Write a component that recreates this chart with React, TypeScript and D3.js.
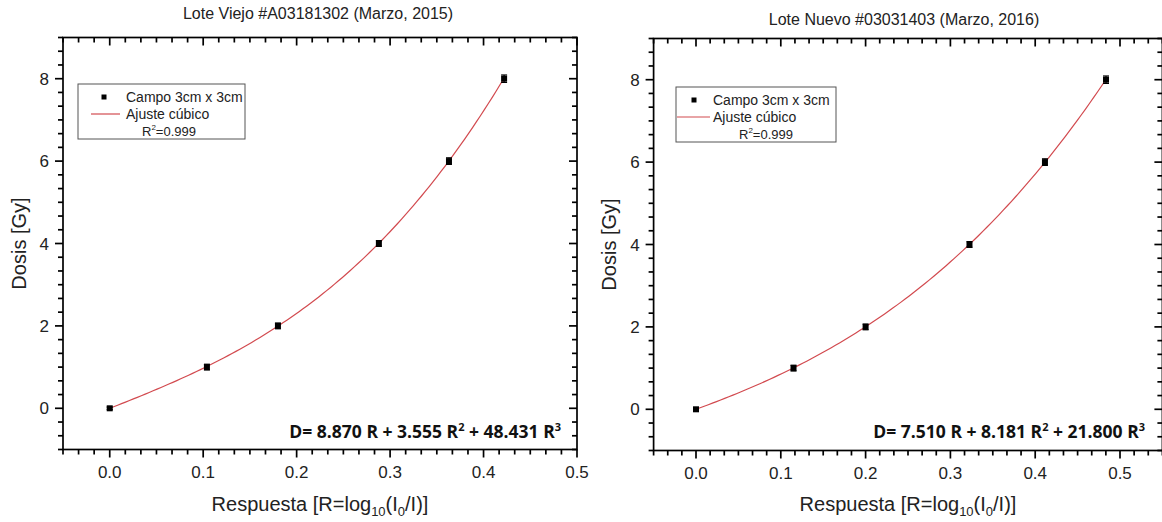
import React from "react";
import * as d3 from "d3";

const doses = [0, 1, 2, 4, 6, 8];
const doseErr = [0.03, 0.07, 0.07, 0.07, 0.08, 0.09];
const respOld = [0, 0.104, 0.18, 0.288, 0.363, 0.422];
const respNew = [0, 0.115, 0.2, 0.3225, 0.4115, 0.4835];
const coefOld = [8.87, 3.555, 48.431];
const coefNew = [7.51, 8.181, 21.8];
const coefOldText = ["8.870", "3.555", "48.431"];
const coefNewText = ["7.510", "8.181", "21.800"];
const xTicks = [0, 0.1, 0.2, 0.3, 0.4, 0.5];
const yTicks = [0, 2, 4, 6, 8];
const titles = ["Lote Viejo #A03181302 (Marzo, 2015)", "Lote Nuevo #03031403 (Marzo, 2016)"];
const legendLabels = ["Campo 3cm x 3cm", "Ajuste cúbico", "=0.999"];

const FONT = "'Liberation Sans', Arial, sans-serif";
const RED = "#d24a4f";

type PanelProps = {
  title: string;
  titleX: number;
  titleY: number;
  resp: number[];
  coef: number[];
  coefText: string[];
  xDomain: [number, number];
  xRange: [number, number];
  yRange: [number, number];
  yLabelX: number;
  legend: { x: number; y: number; w: number; h: number; lineX0: number; lineX1: number; markX: number; textX: number; r2X: number };
  eqRight: number;
};

function Panel(p: PanelProps) {
  const x = d3.scaleLinear().domain(p.xDomain).range(p.xRange);
  const y = d3.scaleLinear().domain([-1, 9]).range(p.yRange);
  const [x0, x1] = p.xRange;
  const [yb, yt] = p.yRange;
  const minorX = d3.range(Math.round(p.xDomain[0] * 60), Math.round(p.xDomain[1] * 60) + 1).map((i) => i / 60);
  const minorY = d3.range(-3, 28).map((i) => i / 3);
  const fit = (r: number) => p.coef[0] * r + p.coef[1] * r * r + p.coef[2] * r * r * r;
  const rMax = d3.max(p.resp) as number;
  const curvePts = d3.range(0, 101).map((i) => (rMax * i) / 100);
  const line = d3
    .line<number>()
    .x((r) => x(r))
    .y((r) => y(fit(r)));
  const isMajorX = (v: number) => xTicks.some((t) => Math.abs(t - v) < 1e-6);
  const isMajorY = (v: number) => yTicks.some((t) => Math.abs(t - v) < 1e-6);
  const cx = (x0 + x1) / 2;
  const cy = (yb + yt) / 2;
  const L = p.legend;
  return (
    <g>
      <text x={p.titleX} y={p.titleY} textAnchor="middle" fontSize={16} fontFamily={FONT} fill="#222">
        {p.title}
      </text>
      <rect x={x0} y={yt} width={x1 - x0} height={yb - yt} fill="none" stroke="#000" strokeWidth={1.7} />
      {minorX.map((v, i) => {
        const len = isMajorX(v) ? 8 : 5;
        const xx = x(v);
        return (
          <g key={"xt" + i}>
            <line x1={xx} x2={xx} y1={yb} y2={yb + len} stroke="#000" strokeWidth={1.7} />
            <line x1={xx} x2={xx} y1={yt} y2={yt + len} stroke="#000" strokeWidth={1.7} />
          </g>
        );
      })}
      {minorY.map((v, i) => {
        const len = isMajorY(v) ? 8 : 5;
        const yy = y(v);
        return (
          <g key={"yt" + i}>
            <line x1={x0} x2={x0 - len} y1={yy} y2={yy} stroke="#000" strokeWidth={1.7} />
            <line x1={x1} x2={x1 - len} y1={yy} y2={yy} stroke="#000" strokeWidth={1.7} />
          </g>
        );
      })}
      {xTicks.map((t) => (
        <text key={"xl" + t} x={x(t)} y={yb + 28} textAnchor="middle" fontSize={17} fontFamily={FONT} fill="#222">
          {d3.format(".1f")(t)}
        </text>
      ))}
      {yTicks.map((t) => (
        <text key={"yl" + t} x={x0 - 14} y={y(t)} dy="0.36em" textAnchor="end" fontSize={17} fontFamily={FONT} fill="#222">
          {t}
        </text>
      ))}
      <text
        transform={`translate(${p.yLabelX},${cy}) rotate(-90)`}
        textAnchor="middle"
        fontSize={20}
        fontFamily={FONT}
        fill="#222"
      >
        Dosis [Gy]
      </text>
      <text x={cx} y={511} textAnchor="middle" fontSize={20} fontFamily={FONT} fill="#222">
        Respuesta [R=log
        <tspan fontSize={13} dy={5}>10</tspan>
        <tspan dy={-5}>(I</tspan>
        <tspan fontSize={13} dy={5}>0</tspan>
        <tspan dy={-5}>/I)]</tspan>
      </text>
      <path d={line(curvePts) || ""} fill="none" stroke={RED} strokeWidth={1.2} />
      {p.resp.map((r, i) => (
        <g key={"pt" + i}>
          <line x1={x(r)} x2={x(r)} y1={y(doses[i] - doseErr[i])} y2={y(doses[i] + doseErr[i])} stroke="#000" strokeWidth={1.2} />
          <line x1={x(r) - 3} x2={x(r) + 3} y1={y(doses[i] - doseErr[i])} y2={y(doses[i] - doseErr[i])} stroke="#000" strokeWidth={1.2} />
          <line x1={x(r) - 3} x2={x(r) + 3} y1={y(doses[i] + doseErr[i])} y2={y(doses[i] + doseErr[i])} stroke="#000" strokeWidth={1.2} />
          <rect x={x(r) - 3} y={y(doses[i]) - 3} width={6} height={6} fill="#000" />
        </g>
      ))}
      <rect x={L.x} y={L.y} width={L.w} height={L.h} fill="#fff" stroke="#555" strokeWidth={1} />
      <rect x={L.markX - 2.5} y={L.y + 10.5} width={5} height={5} fill="#000" />
      <text x={L.textX} y={L.y + 18} fontSize={14} fontFamily={FONT} fill="#222">
        {legendLabels[0]}
      </text>
      <line x1={L.lineX0} x2={L.lineX1} y1={L.y + 30} y2={L.y + 30} stroke={RED} strokeWidth={1.2} />
      <text x={L.textX} y={L.y + 35} fontSize={14} fontFamily={FONT} fill="#222">
        {legendLabels[1]}
      </text>
      <text x={L.r2X} y={L.y + 52} fontSize={13} fontFamily={FONT} fill="#222">
        R<tspan fontSize={8} dy={-6}>2</tspan>
        <tspan dy={6}>{legendLabels[2]}</tspan>
      </text>
      <text x={p.eqRight} y={438} textAnchor="end" fontSize={17.5} fontWeight={700} fontFamily="'Open Sans', sans-serif" fill="#111">
        {`D= ${p.coefText[0]} R + ${p.coefText[1]} R`}
        <tspan fontSize={11} dy={-7}>2</tspan>
        <tspan dy={7}>{` + ${p.coefText[2]} R`}</tspan>
        <tspan fontSize={11} dy={-7}>3</tspan>
      </text>
    </g>
  );
}

export default function App() {
  return (
    <svg width={1162} height={522} style={{ position: "absolute", left: 0, top: 0, background: "#fff" }}>
      <rect width={1162} height={522} fill="#fff" />
      <Panel
        title={titles[0]}
        titleX={318}
        titleY={19}
        resp={respOld}
        coef={coefOld}
        coefText={coefOldText}
        xDomain={[-0.05, 0.5]}
        xRange={[63, 577]}
        yRange={[449.5, 37.5]}
        yLabelX={26}
        legend={{ x: 78, y: 84, w: 167, h: 55, lineX0: 91, lineX1: 120, markX: 104, textX: 126, r2X: 142 }}
        eqRight={561}
      />
      <Panel
        title={titles[1]}
        titleX={904}
        titleY={25}
        resp={respNew}
        coef={coefNew}
        coefText={coefNewText}
        xDomain={[-0.05, 0.55]}
        xRange={[653.6, 1162.4]}
        yRange={[450.5, 38.5]}
        yLabelX={616}
        legend={{ x: 676, y: 87, w: 160, h: 55, lineX0: 677, lineX1: 710, markX: 694, textX: 713, r2X: 739 }}
        eqRight={1145}
      />
    </svg>
  );
}
